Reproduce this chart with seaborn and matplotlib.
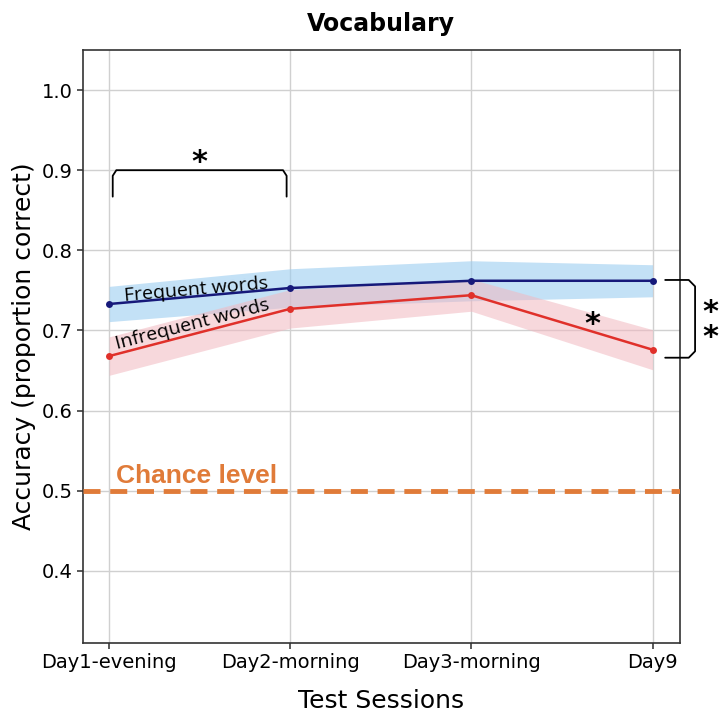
import matplotlib
matplotlib.use("Agg")
import matplotlib.pyplot as plt
import seaborn as sns
import numpy as np
import pandas as pd

sessions = ["Day1-evening", "Day2-morning", "Day3-morning", "Day9"]
freq_mean = [0.733, 0.753, 0.762, 0.762]
freq_err = [0.022, 0.024, 0.025, 0.020]
infreq_mean = [0.668, 0.727, 0.744, 0.676]
infreq_err = [0.024, 0.024, 0.020, 0.025]
chance = 0.5

sns.set_theme(style="whitegrid")
plt.rcParams['font.family'] = ['DejaVu Sans']
plt.rcParams['text.color'] = 'black'
plt.rcParams['axes.labelcolor'] = 'black'
plt.rcParams['xtick.color'] = 'black'
plt.rcParams['ytick.color'] = 'black'

fig = plt.figure(figsize=(7.2, 7.13), dpi=100)
ax = fig.add_axes([0.1153, 0.0982, 0.8287, 0.8317])

x = np.arange(len(sessions))
df = pd.DataFrame({
    "x": np.concatenate([x, x]),
    "acc": freq_mean + infreq_mean,
    "type": ["Frequent"] * 4 + ["Infrequent"] * 4,
})

fm, fe = np.array(freq_mean), np.array(freq_err)
im, ie = np.array(infreq_mean), np.array(infreq_err)
ax.fill_between(x, fm - fe, fm + fe, color="#9ccdf0", alpha=0.6, lw=0, zorder=2)
ax.fill_between(x, im - ie, im + ie, color="#f2b8c0", alpha=0.55, lw=0, zorder=2)

sns.lineplot(data=df, x="x", y="acc", hue="type",
             palette={"Frequent": "#16197a", "Infrequent": "#e0302a"},
             marker="o", markersize=5, markeredgewidth=0, linewidth=1.8,
             legend=False, ax=ax, zorder=3)

ax.axhline(chance, color="#e07b39", lw=3.5, ls=(0, (3.5, 2)), zorder=4)
ax.text(0.04, 0.519, "Chance level", color="#e07b39", fontsize=19,
        fontweight="bold", family=["Liberation Sans Narrow", "Liberation Sans", "DejaVu Sans"],
        ha="left", va="center", zorder=5)

ax.text(0.48, 0.7505, "Frequent words", fontsize=14, rotation=5,
        family=["Open Sans", "DejaVu Sans"], ha="center", va="center", zorder=5)
ax.text(0.46, 0.707, "Infrequent words", fontsize=14, rotation=14.5,
        family=["Open Sans", "DejaVu Sans"], ha="center", va="center", zorder=5)

# significance bracket (top)
ax.plot([0.02, 0.02, 0.04, 0.96, 0.98, 0.98],
        [0.867, 0.893, 0.9, 0.9, 0.893, 0.867], color="black", lw=1.3, zorder=5)
ax.text(0.5, 0.91, "*", fontsize=22, fontweight="bold", ha="center", va="center")

# star on Day9 segment
ax.text(2.67, 0.708, "*", fontsize=22, fontweight="bold", ha="center", va="center")

# right bracket
ax.plot([3.07, 3.20, 3.235, 3.235, 3.20, 3.07],
        [0.763, 0.763, 0.755, 0.674, 0.666, 0.666], color="black", lw=1.3,
        clip_on=False, zorder=5)
ax.text(3.322, 0.707, "*\n*", fontsize=22, fontweight="bold", linespacing=0.85,
        ha="center", va="center", clip_on=False)

ax.set_xlim(-0.144, 3.15)
ax.set_ylim(0.31, 1.05)
ax.set_xticks(x)
ax.set_xticklabels(sessions, fontsize=14)
ax.set_yticks([0.4, 0.5, 0.6, 0.7, 0.8, 0.9, 1.0])
ax.set_yticklabels(["0.4", "0.5", "0.6", "0.7", "0.8", "0.9", "1.0"], fontsize=14)
ax.tick_params(axis="both", length=4, color="#444444", bottom=True, left=True)
ax.set_xlabel("Test Sessions", fontsize=18, labelpad=12)
ax.set_ylabel("Accuracy (proportion correct)", fontsize=18)
ax.set_title("Vocabulary", fontsize=17, fontweight="bold", pad=14)
ax.grid(True, color="#d0d0d0", lw=1)
for s in ax.spines.values():
    s.set_visible(True)
    s.set_color("#333333")
    s.set_linewidth(1.2)
ax.set_facecolor("white")

fig.savefig("out.png", dpi=100, facecolor="white")
